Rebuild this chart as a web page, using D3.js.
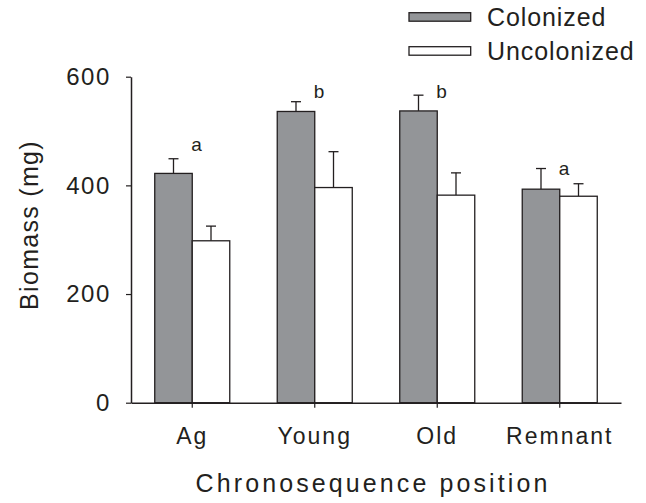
<!DOCTYPE html>
<html>
<head>
<meta charset="utf-8">
<script src="https://cdn.jsdelivr.net/npm/d3@7"></script>
<style>
  body { margin: 0; background: #fff; }
  text { font-family: "Liberation Sans", Arial, sans-serif; fill: #231f20; }
</style>
</head>
<body>
<div id="my_dataviz"></div>
<script>
// data
var categories = ["Ag", "Young", "Old", "Remnant"];
var series = ["Colonized", "Uncolonized"];
var colonized = [422, 536, 537, 393];
var colonizedErr = [449, 554, 566, 431];
var uncolonized = [298, 396, 382, 380];
var uncolonizedErr = [325, 462, 423, 403];
var letters = ["a", "b", "b", "a"];
var letterLevel = [464, 561, 561, 419];
var yTicks = [0, 200, 400, 600];

var ink = "#231f20";
var colors = { Colonized: "#939598", Uncolonized: "#ffffff" };

// set the dimensions and margins of the graph
var W = 646, H = 503;
var margin = {top: 76.7, right: 25, bottom: 100.3, left: 131},
    width = W - margin.left - margin.right,
    height = H - margin.top - margin.bottom;

var svg = d3.select("#my_dataviz")
  .append("svg")
    .attr("width", W)
    .attr("height", H)
  .append("g")
    .attr("transform", "translate(" + margin.left + "," + margin.top + ")");

var x = d3.scaleBand().domain(categories).range([0, width]).padding(0);
var xSub = d3.scaleBand().domain(series).range([0, x.bandwidth()]).paddingInner(0).paddingOuter(0.633);
var y = d3.scaleLinear().domain([0, 600]).range([height, 0]);

var rows = categories.map(function(c, i) {
  return {
    cat: c,
    vals: [
      {key: "Colonized", v: colonized[i], e: colonizedErr[i]},
      {key: "Uncolonized", v: uncolonized[i], e: uncolonizedErr[i]}
    ]
  };
});

// error bars (drawn first so the bar outline sits on top)
var groups = svg.selectAll(".grp").data(rows).enter().append("g")
  .attr("class", "grp")
  .attr("transform", function(d) { return "translate(" + x(d.cat) + ",0)"; });

groups.selectAll(".err").data(function(d) { return d.vals; }).enter().append("g")
  .each(function(d) {
    var g = d3.select(this);
    var cx = xSub(d.key) + xSub.bandwidth() / 2;
    g.append("line").attr("x1", cx).attr("x2", cx)
      .attr("y1", y(d.v)).attr("y2", y(d.e))
      .attr("stroke", ink).attr("stroke-width", 1.3);
    g.append("line").attr("x1", cx - 5).attr("x2", cx + 5)
      .attr("y1", y(d.e)).attr("y2", y(d.e))
      .attr("stroke", ink).attr("stroke-width", 1.3);
  });

groups.selectAll("rect").data(function(d) { return d.vals; }).enter().append("rect")
  .attr("x", function(d) { return xSub(d.key); })
  .attr("width", xSub.bandwidth())
  .attr("y", function(d) { return y(d.v); })
  .attr("height", function(d) { return height - y(d.v); })
  .attr("fill", function(d) { return colors[d.key]; })
  .attr("stroke", ink)
  .attr("stroke-width", 1.3);

// significance letters
svg.selectAll(".letter").data(categories).enter().append("text")
  .attr("class", "letter")
  .attr("x", function(d) { return x(d) + x.bandwidth() / 2 - 1; })
  .attr("y", function(d, i) { return y(letterLevel[i]); })
  .style("font-size", "19px")
  .text(function(d, i) { return letters[i]; });

// X axis
var xAxis = svg.append("g")
  .attr("transform", "translate(0," + height + ")")
  .call(d3.axisBottom(x).tickSize(5).tickSizeOuter(0).tickPadding(20));
xAxis.select(".domain").attr("stroke", ink).attr("stroke-width", 1.5);
xAxis.selectAll(".tick line").attr("stroke", ink).attr("stroke-width", 1.2);
xAxis.selectAll(".tick text")
  .style("font-size", "23px").style("letter-spacing", "2px")
  .attr("fill", ink).attr("font-family", null);

// Y axis
var yAxis = svg.append("g")
  .call(d3.axisLeft(y).tickValues(yTicks).tickSize(5).tickSizeOuter(0).tickPadding(15));
yAxis.select(".domain").attr("stroke", ink).attr("stroke-width", 1.5);
yAxis.selectAll(".tick line").attr("stroke", ink).attr("stroke-width", 1.2);
yAxis.selectAll(".tick text")
  .style("font-size", "24px").style("letter-spacing", "1.6px")
  .attr("fill", ink).attr("font-family", null);

// text label for the x axis
svg.append("text")
  .attr("x", 373 - margin.left)
  .attr("y", height + 89)
  .attr("text-anchor", "middle")
  .style("font-size", "25px")
  .style("letter-spacing", "3.1px")
  .text("Chronosequence position");

// text label for the y axis
svg.append("text")
  .attr("transform", "rotate(-90)")
  .attr("x", -(225 - margin.top))
  .attr("y", 38 - margin.left)
  .attr("text-anchor", "middle")
  .style("font-size", "25px")
  .style("letter-spacing", "1.3px")
  .text("Biomass (mg)");

// legend
var legend = d3.select("svg").append("g").attr("transform", "translate(409,0)");
series.forEach(function(s, i) {
  var yy = 12.7 + i * 34;
  legend.append("rect")
    .attr("x", 0).attr("y", yy).attr("width", 61.7).attr("height", 8.5)
    .attr("fill", colors[s]).attr("stroke", ink).attr("stroke-width", 1.3);
  legend.append("text")
    .attr("x", 78).attr("y", 26 + i * 34)
    .style("font-size", "25px")
    .style("letter-spacing", "0.9px")
    .text(s);
});
</script>
</body>
</html>
